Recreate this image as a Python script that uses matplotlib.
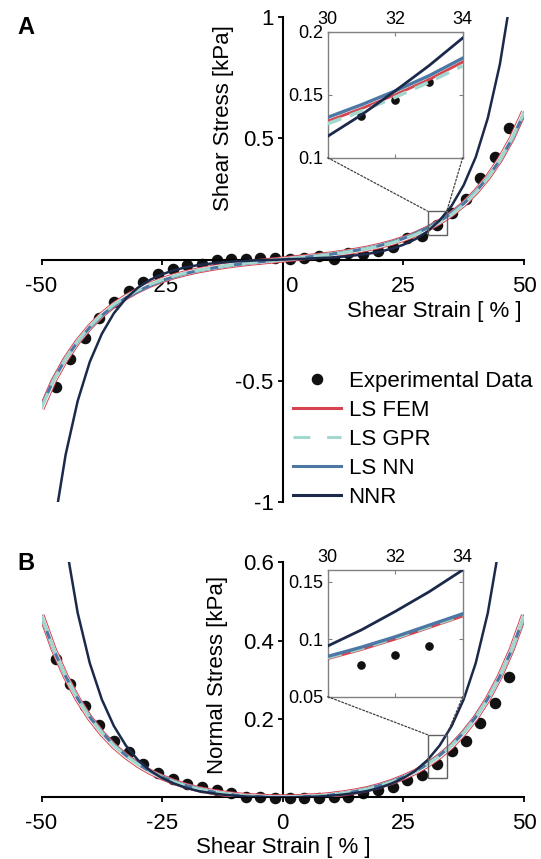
import matplotlib
matplotlib.use("Agg")
import matplotlib.pyplot as plt
from matplotlib.lines import Line2D
from matplotlib.patches import Rectangle, ConnectionPatch

plt.rcParams["font.family"] = ["Liberation Sans", "DejaVu Sans"]
plt.rcParams["font.size"] = 16

# model curves are sampled on this strain grid [%]
strain = [-50, -47.5, -45, -42.5, -40, -37.5, -35, -32.5, -30, -27.5, -25,
          -22.5, -20, -17.5, -15, -12.5, -10, -7.5, -5, -2.5, 0, 2.5, 5, 7.5,
          10, 12.5, 15, 17.5, 20, 22.5, 25, 27.5, 30, 32.5, 35, 37.5, 40,
          42.5, 45, 47.5, 50]

# shear stress [kPa]
fem_shear = [-0.616, -0.501, -0.412, -0.339, -0.279, -0.229, -0.188, -0.155, -0.127, -0.104, -0.085,
             -0.069, -0.056, -0.045, -0.036, -0.028, -0.021, -0.015, -0.010, -0.005, 0.0, 0.005, 0.010, 0.015,
             0.021, 0.028, 0.036, 0.045, 0.056, 0.069, 0.085, 0.104, 0.127, 0.155, 0.188, 0.229, 0.279,
             0.339, 0.412, 0.501, 0.610]
gpr_shear = [-0.612, -0.499, -0.410, -0.337, -0.277, -0.227, -0.186, -0.153, -0.126, -0.103, -0.084,
             -0.068, -0.055, -0.045, -0.036, -0.028, -0.021, -0.015, -0.010, -0.005, 0.0, 0.005, 0.010, 0.015,
             0.021, 0.028, 0.036, 0.045, 0.055, 0.068, 0.084, 0.103, 0.126, 0.153, 0.186, 0.227, 0.277,
             0.337, 0.410, 0.499, 0.607]
nn_shear = [-0.608, -0.497, -0.410, -0.339, -0.280, -0.231, -0.191, -0.158, -0.131, -0.107, -0.087,
            -0.071, -0.057, -0.046, -0.037, -0.029, -0.022, -0.016, -0.010, -0.005, 0.0, 0.005, 0.010, 0.016,
            0.022, 0.029, 0.037, 0.046, 0.057, 0.071, 0.087, 0.107, 0.131, 0.158, 0.191, 0.231, 0.280,
            0.339, 0.410, 0.497, 0.603]
nnr_shear = [-1.535, -1.113, -0.806, -0.584, -0.423, -0.307, -0.222, -0.161, -0.116, -0.084, -0.061,
             -0.044, -0.032, -0.023, -0.017, -0.012, -0.008, -0.006, -0.003, -0.002, 0.0, 0.002, 0.003, 0.006,
             0.008, 0.012, 0.017, 0.023, 0.032, 0.044, 0.061, 0.084, 0.116, 0.161, 0.222, 0.307, 0.423,
             0.584, 0.806, 1.113, 1.535]

# normal stress [kPa]
fem_normal = [0.465, 0.379, 0.309, 0.251, 0.203, 0.164, 0.131, 0.105, 0.083, 0.065, 0.051,
              0.039, 0.029, 0.021, 0.015, 0.010, 0.006, 0.003, 0.002, 0.000, 0.0, 0.000, 0.002, 0.003,
              0.006, 0.010, 0.015, 0.021, 0.029, 0.039, 0.051, 0.065, 0.083, 0.105, 0.131, 0.164, 0.203,
              0.251, 0.309, 0.379, 0.465]
gpr_normal = [0.463, 0.378, 0.309, 0.251, 0.204, 0.165, 0.132, 0.106, 0.084, 0.066, 0.051,
              0.039, 0.029, 0.021, 0.015, 0.010, 0.006, 0.003, 0.002, 0.000, 0.0, 0.000, 0.002, 0.003,
              0.006, 0.010, 0.015, 0.021, 0.029, 0.039, 0.051, 0.066, 0.084, 0.106, 0.132, 0.165, 0.204,
              0.251, 0.309, 0.378, 0.463]
nn_normal = [0.462, 0.378, 0.309, 0.252, 0.205, 0.166, 0.133, 0.107, 0.085, 0.066, 0.052,
             0.040, 0.030, 0.022, 0.015, 0.010, 0.006, 0.003, 0.002, 0.000, 0.0, 0.000, 0.002, 0.003,
             0.006, 0.010, 0.015, 0.022, 0.030, 0.040, 0.052, 0.066, 0.085, 0.107, 0.133, 0.166, 0.205,
             0.252, 0.309, 0.378, 0.462]
nnr_normal = [1.210, 0.891, 0.651, 0.471, 0.343, 0.250, 0.182, 0.132, 0.095, 0.068, 0.049,
              0.035, 0.024, 0.016, 0.011, 0.007, 0.004, 0.002, 0.001, 0.000, 0.0, 0.000, 0.001, 0.002,
              0.004, 0.007, 0.011, 0.016, 0.024, 0.035, 0.049, 0.068, 0.095, 0.132, 0.182, 0.250, 0.343,
              0.471, 0.651, 0.891, 1.210]

# experimental data
exp_strain = [-47.0, -44.0, -41.0, -38.0, -35.0, -31.9, -28.9, -25.9, -22.8, -19.8, -16.8,
              -13.7, -10.7, -7.6, -4.7, -1.6, 1.4, 4.5, 7.5, 10.6, 13.6, 16.7, 19.8, 22.8,
              25.8, 28.9, 32.0, 35.0, 37.9, 40.8, 43.9, 46.8]
exp_shear = [-0.528, -0.410, -0.326, -0.243, -0.174, -0.128, -0.091, -0.061, -0.041, -0.022, -0.017,
             -0.003, 0.004, 0.004, 0.006, 0.006, 0.004, 0.008, 0.014, 0.004, 0.026, 0.023, 0.036, 0.050,
             0.088, 0.098, 0.143, 0.193, 0.250, 0.338, 0.425, 0.545]
exp_normal = [0.353, 0.289, 0.234, 0.185, 0.144, 0.115, 0.084, 0.063, 0.048, 0.034, 0.027,
              0.019, 0.010, 0.002, 0.000, -0.001, -0.002, -0.002, -0.001, 0.000, 0.002, 0.010, 0.019, 0.027,
              0.044, 0.057, 0.085, 0.118, 0.144, 0.191, 0.242, 0.308]

# zoomed window 30-34 %
zoom_strain = [30, 31, 32, 33, 34]
zoom_fem_shear = [0.129, 0.139, 0.150, 0.162, 0.176]
zoom_gpr_shear = [0.127, 0.137, 0.148, 0.160, 0.173]
zoom_nn_shear = [0.132, 0.142, 0.153, 0.165, 0.179]
zoom_nnr_shear = [0.117, 0.134, 0.153, 0.173, 0.195]
zoom_fem_normal = [0.083, 0.091, 0.100, 0.110, 0.120]
zoom_gpr_normal = [0.084, 0.092, 0.101, 0.111, 0.121]
zoom_nn_normal = [0.085, 0.093, 0.102, 0.112, 0.122]
zoom_nnr_normal = [0.094, 0.108, 0.124, 0.141, 0.160]
zoom_exp_strain = [31, 32, 33]
zoom_exp_shear = [0.133, 0.146, 0.160]
zoom_exp_normal = [0.0775, 0.0866, 0.094]

RED = "#d6454f"
CYAN = "#a3d8cf"
STEEL = "#4c78a3"
NAVY = "#1b2a4b"
W, H = 541, 859

fig = plt.figure(figsize=(W / 100, H / 100), dpi=100)


def px_axes(left, top, right, bottom):
    return fig.add_axes([left / W, 1 - bottom / H, (right - left) / W, (bottom - top) / H])


def draw_models(ax, x, fem, gpr, nn, nnr, big=True):
    if big:
        ax.plot(x, fem, color=RED, lw=4.4, zorder=3, solid_capstyle="butt")
        ax.plot(x, fem, color="white", lw=3.0, zorder=3.1, solid_capstyle="butt")
        ax.plot(x, nn, color=STEEL, lw=2.3, zorder=3.2)
        ax.plot(x, gpr, color=CYAN, lw=2.3, ls=(0, (5, 2.5)), zorder=3.3)
        ax.plot(x, nnr, color=NAVY, lw=1.8, zorder=3.4)
    else:
        ax.plot(x, fem, color=RED, lw=2.0, zorder=3)
        ax.plot(x, gpr, color=CYAN, lw=2.6, ls=(0, (4, 2.5)), zorder=3.1)
        ax.plot(x, nn, color=STEEL, lw=2.4, zorder=3.2)
        ax.plot(x, nnr, color=NAVY, lw=2.0, zorder=3.4)


def style_main(ax, ylim, yticks, ylabels, show_zero):
    ax.set_xlim(-50, 50)
    ax.set_ylim(*ylim)
    for side in ("top", "right"):
        ax.spines[side].set_visible(False)
    for side in ("left", "bottom"):
        ax.spines[side].set_position(("data", 0))
        ax.spines[side].set_linewidth(1.5)
    ax.set_xticks([-50, -25, 0, 25, 50], ["-50", "-25", "0" if show_zero else "", "25", "50"])
    ax.set_yticks(yticks, ylabels)
    ax.tick_params(axis="both", direction="out", length=3.6, width=1.3, labelsize=16)
    ax.tick_params(axis="x", pad=8)
    ax.tick_params(axis="y", pad=3)
    ax.patch.set_alpha(0)


def style_inset(ax, ylim, yticks, ylabels):
    ax.set_xlim(30, 34)
    ax.set_ylim(*ylim)
    ax.set_xticks([30, 32, 34], ["30", "32", "34"])
    ax.set_yticks(yticks, ylabels)
    ax.tick_params(direction="in", top=True, right=True, labeltop=True, labelbottom=False,
                   length=3, width=0.8, color="#808080", labelsize=13, pad=3)
    for sp in ax.spines.values():
        sp.set_color("#808080")
        sp.set_linewidth(1.0)


def zoom_box(ax, axins, y0, y1):
    ax.add_patch(Rectangle((30, y0), 4, y1 - y0, fill=False, ec="#606060", lw=1.0, zorder=5))
    for xs in (30, 34):
        con = ConnectionPatch(xyA=(xs, y0), coordsA=axins.transData, xyB=(xs, y1), coordsB=ax.transData,
                              ls=(0, (1.5, 1.5)), color="#404040", lw=0.9)
        fig.add_artist(con)


# panel A: shear stress
ax_a = px_axes(41.5, 17.3, 524, 501.7)
style_main(ax_a, (-1, 1), [-1, -0.5, 0.5, 1], ["-1", "-0.5", "0.5", "1"], show_zero=False)
ax_a.annotate("0", xy=(0, 0), xytext=(6.3, -19.8), textcoords="offset points",
              ha="center", va="center", fontsize=16)
ax_a.plot(exp_strain, exp_shear, "o", color="#111111", ms=7.3, zorder=2)
draw_models(ax_a, strain, fem_shear, gpr_shear, nn_shear, nnr_shear)

ins_a = px_axes(327.7, 31.7, 462.7, 157.7)
style_inset(ins_a, (0.1, 0.2), [0.1, 0.15, 0.2], ["0.1", "0.15", "0.2"])
ins_a.plot(zoom_exp_strain, zoom_exp_shear, "o", color="#111111", ms=5.2, zorder=2)
draw_models(ins_a, zoom_strain, zoom_fem_shear, zoom_gpr_shear, zoom_nn_shear, zoom_nnr_shear, big=False)
zoom_box(ax_a, ins_a, 0.1, 0.2)

fig.text(224 / W, 1 - 118 / H, "Shear Stress [kPa]", rotation=90, ha="center", va="center", fontsize=16)
fig.text(522 / W, 1 - 312 / H, "Shear Strain [ % ]", ha="right", va="center", fontsize=16)
fig.text(26 / W, 1 - 27 / H, "A", ha="center", va="center", fontsize=17, fontweight="bold")

handles = [
    Line2D([], [], marker="o", ls="none", color="#111111", ms=7.3, label="Experimental Data"),
    Line2D([], [], color=RED, lw=2.2, label="LS FEM"),
    Line2D([], [], color=CYAN, lw=2.2, ls=(0, (5.5, 5.5)), label="LS GPR"),
    Line2D([], [], color=STEEL, lw=2.2, label="LS NN"),
    Line2D([], [], color=NAVY, lw=2.2, label="NNR"),
]
fig.legend(handles=handles, loc="upper left", bbox_to_anchor=(293 / W, 1 - 371 / H), frameon=False,
           borderpad=0, borderaxespad=0, handlelength=2.15, handletextpad=0.35, labelspacing=0.36,
           fontsize=16, numpoints=1)

# panel B: normal stress
ax_b = px_axes(41.5, 562.4, 524, 797.3)
style_main(ax_b, (0, 0.6), [0.2, 0.4, 0.6], ["0.2", "0.4", "0.6"], show_zero=True)
ax_b.plot(exp_strain, exp_normal, "o", color="#111111", ms=7.3, zorder=2, clip_on=False)
draw_models(ax_b, strain, fem_normal, gpr_normal, nn_normal, nnr_normal)

ins_b = px_axes(327.7, 570, 462.7, 696.7)
style_inset(ins_b, (0.05, 0.16), [0.05, 0.1, 0.15], ["0.05", "0.1", "0.15"])
ins_b.plot(zoom_exp_strain, zoom_exp_normal, "o", color="#111111", ms=5.2, zorder=2)
draw_models(ins_b, zoom_strain, zoom_fem_normal, zoom_gpr_normal, zoom_nn_normal, zoom_nnr_normal, big=False)
zoom_box(ax_b, ins_b, 0.05, 0.16)

fig.text(218 / W, 1 - 675 / H, "Normal Stress [kPa]", rotation=90, ha="center", va="center", fontsize=16)
fig.text(283 / W, 1 - 847 / H, "Shear Strain [ % ]", ha="center", va="center", fontsize=16)
fig.text(26 / W, 1 - 563 / H, "B", ha="center", va="center", fontsize=17, fontweight="bold")

fig.savefig("out.png", dpi=100)
